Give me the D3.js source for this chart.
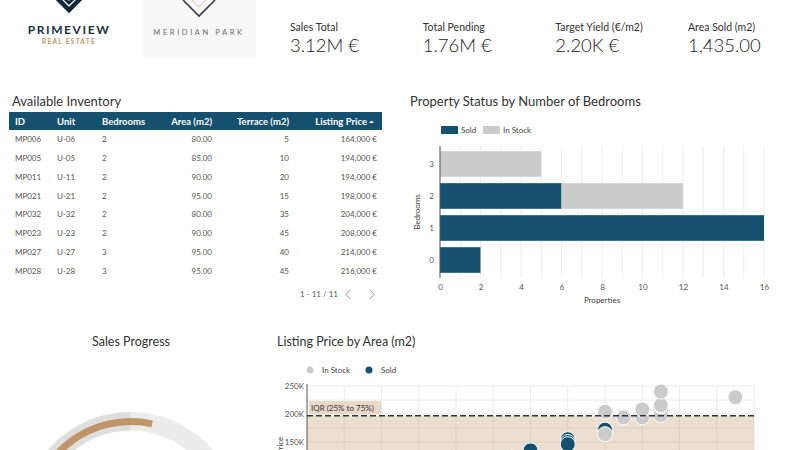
<!DOCTYPE html>
<html>
<head>
<meta charset="utf-8">
<script src="https://cdn.jsdelivr.net/npm/d3@7"></script>
<style>
  body { margin: 0; background: #fff; }
  svg text { font-family: Lato, "Open Sans", sans-serif; }
</style>
</head>
<body>
<svg id="chart" width="800" height="450"></svg>
<script>
// --- data ---
const kpiLabels = ["Sales Total", "Total Pending", "Target Yield (€/m2)", "Area Sold (m2)"];
const kpiValues = ["3.12M €", "1.76M €", "2.20K €", "1,435.00"];

const tableColumns = ["ID", "Unit", "Bedrooms", "Area (m2)", "Terrace (m2)", "Listing Price"];
const unitIds = ["MP006", "MP005", "MP011", "MP021", "MP032", "MP023", "MP027", "MP028"];
const unitNames = ["U-06", "U-05", "U-11", "U-21", "U-32", "U-23", "U-27", "U-28"];
const unitBedrooms = [2, 2, 2, 2, 2, 2, 3, 3];
const unitAreas = [80, 85, 90, 95, 80, 90, 95, 95];
const unitTerraces = [5, 10, 20, 15, 35, 45, 40, 45];
const unitPrices = [164000, 194000, 194000, 198000, 204000, 208000, 214000, 216000];
const pageLabel = "1 - 11 / 11";

const bedroomCats = ["3", "2", "1", "0"];
const soldByBedrooms = [0, 6, 16, 2];
const inStockByBedrooms = [5, 6, 0, 0];

const gaugeTarget = 0.5;
const gaugeValue = 0.57;

const inStockArea = [80, 80, 85, 90, 90, 95, 95, 95, 95, 115, 55];
const inStockPrice = [164000, 204000, 194000, 194000, 208000, 198000, 214000, 216000, 240000, 230000, 122000];
const soldArea = [95, 80, 70, 70, 70, 60];
const soldPrice = [205000, 172000, 155000, 150000, 146000, 135000];
const iqrRange = [120000, 197000];

// --- styles ---
const NAVY = "#16506f";
const GREY_BAR = "#cbcbcb";
const TAN = "#c0956a";
const TEXT = "#333";

const svg = d3.select("#chart");
const euro = (v) => d3.format(",")(v) + " €";

const drawLogos = (g) => {
  // PrimeView mark
  g.append("path")
    .attr("d", "M57,-2 L69,10 L81,-2")
    .attr("fill", "none").attr("stroke", "#13293a").attr("stroke-width", 4.5);
  g.append("path")
    .attr("d", "M64,-2 L69,3 L74,-2")
    .attr("fill", "none").attr("stroke", "#13293a").attr("stroke-width", 3);
  g.append("text").attr("x", 69).attr("y", 34).attr("text-anchor", "middle")
    .attr("font-size", 12).attr("font-weight", 700).attr("letter-spacing", 1.6)
    .attr("fill", "#1b3244").text("PRIMEVIEW");
  g.append("text").attr("x", 69).attr("y", 44).attr("text-anchor", "middle")
    .attr("font-size", 6.5).attr("font-weight", 700).attr("letter-spacing", 1.3)
    .attr("fill", TAN).text("REAL ESTATE");

  // Meridian Park
  g.append("rect").attr("x", 143).attr("y", 0).attr("width", 113).attr("height", 58)
    .attr("fill", "#f8f8f8");
  g.append("path").attr("d", "M183,0 L199,16 L215,0")
    .attr("fill", "none").attr("stroke", "#3a3a3a").attr("stroke-width", 1.6);
  g.append("path").attr("d", "M192,0 L199,7 L206,0")
    .attr("fill", "none").attr("stroke", "#dcc7aa").attr("stroke-width", 1);
  g.append("text").attr("x", 199).attr("y", 35).attr("text-anchor", "middle")
    .attr("font-size", 7.5).attr("letter-spacing", 2.6)
    .attr("fill", "#6a6a6a").text("MERIDIAN PARK");
};

const drawKpis = (g) => {
  const x = d3.scalePoint(kpiLabels, [290, 688]);
  const cards = g.selectAll("g.kpi").data(kpiLabels).join("g")
    .attr("transform", (d) => `translate(${x(d)},0)`);
  cards.append("text").attr("y", 31).attr("font-size", 10.5).attr("fill", TEXT).text((d) => d);
  cards.append("text").attr("y", 52).attr("font-size", 18.5).attr("font-weight", 300).attr("fill", "#222")
    .text((d, i) => kpiValues[i]);
};

const drawTable = (g) => {
  g.append("text").attr("x", 12).attr("y", 106).attr("font-size", 13).attr("fill", TEXT)
    .text("Available Inventory");
  g.append("rect").attr("x", 9).attr("y", 112).attr("width", 373).attr("height", 18).attr("fill", NAVY);

  const colX = [15, 57, 102, 212, 289, 377];
  const colAnchor = ["start", "start", "start", "end", "end", "end"];
  g.selectAll("text.th").data(tableColumns).join("text")
    .attr("x", (d, i) => (i === 5 ? colX[i] - 10 : colX[i]))
    .attr("y", 124.5)
    .attr("text-anchor", (d, i) => colAnchor[i])
    .attr("font-size", 9.5).attr("font-weight", 700).attr("fill", "#fff")
    .text((d) => d);
  g.append("path").attr("d", "M369,123 L371.5,120.5 L374,123 Z").attr("fill", "#fff");

  const rowY = d3.scaleBand(d3.range(unitIds.length), [130, 280]);
  const rows = g.selectAll("g.row").data(unitIds).join("g")
    .attr("transform", (d, i) => `translate(0,${rowY(i) + rowY.bandwidth() / 2 + 3})`);
  const cells = (i) => [unitIds[i], unitNames[i], unitBedrooms[i],
    unitAreas[i].toFixed(2), unitTerraces[i], euro(unitPrices[i])];
  rows.each(function (d, i) {
    d3.select(this).selectAll("text").data(cells(i)).join("text")
      .attr("x", (c, j) => colX[j])
      .attr("text-anchor", (c, j) => colAnchor[j])
      .attr("font-size", 8).attr("fill", "#555")
      .text((c) => c);
  });

  g.append("text").attr("x", 300).attr("y", 297).attr("font-size", 8).attr("fill", "#555").text(pageLabel);
  g.append("path").attr("d", "M350,290 L346,294.5 L350,299")
    .attr("fill", "none").attr("stroke", "#999").attr("stroke-width", 1);
  g.append("path").attr("d", "M370,290 L374,294.5 L370,299")
    .attr("fill", "none").attr("stroke", "#999").attr("stroke-width", 1);
};

const drawBars = (g) => {
  g.append("text").attr("x", 410).attr("y", 106).attr("font-size", 13).attr("fill", TEXT)
    .text("Property Status by Number of Bedrooms");

  const x = d3.scaleLinear([0, 16], [440, 764]);
  const y = d3.scaleBand(bedroomCats, [148, 276]).paddingInner(0.2).paddingOuter(0.1);

  // legend
  const legend = [["Sold", NAVY, 441], ["In Stock", GREY_BAR, 483]];
  legend.forEach(([label, color, lx]) => {
    g.append("rect").attr("x", lx).attr("y", 126).attr("width", 17).attr("height", 8).attr("fill", color);
    g.append("text").attr("x", lx + 20).attr("y", 133).attr("font-size", 8).attr("fill", "#444").text(label);
  });

  g.append("g").selectAll("line").data(d3.range(0, 17)).join("line")
    .attr("x1", x).attr("x2", x).attr("y1", 146).attr("y2", 278)
    .attr("stroke", "#ececec").attr("stroke-width", 1);

  g.append("g").selectAll("rect").data(bedroomCats).join("rect")
    .attr("x", x(0)).attr("y", (d) => y(d))
    .attr("width", (d, i) => x(soldByBedrooms[i]) - x(0))
    .attr("height", y.bandwidth()).attr("fill", NAVY);
  g.append("g").selectAll("rect").data(bedroomCats).join("rect")
    .attr("x", (d, i) => x(soldByBedrooms[i])).attr("y", (d) => y(d))
    .attr("width", (d, i) => x(inStockByBedrooms[i]) - x(0))
    .attr("height", y.bandwidth()).attr("fill", GREY_BAR);

  g.append("line").attr("x1", 440).attr("x2", 440).attr("y1", 146).attr("y2", 278)
    .attr("stroke", "#555").attr("stroke-width", 1);

  const xAxis = g.append("g").attr("transform", "translate(0,278)")
    .call(d3.axisBottom(x).tickValues(d3.range(0, 17, 2)).tickSize(0).tickPadding(6));
  const yAxis = g.append("g").attr("transform", "translate(440,0)")
    .call(d3.axisLeft(y).tickSize(0).tickPadding(6));
  [xAxis, yAxis].forEach((a) => {
    a.select(".domain").remove();
    a.selectAll("text").attr("font-size", 8).attr("fill", "#555");
  });

  g.append("text").attr("x", 602).attr("y", 303).attr("text-anchor", "middle")
    .attr("font-size", 8).attr("fill", "#444").text("Properties");
  g.append("text").attr("transform", "translate(420,212) rotate(-90)").attr("text-anchor", "middle")
    .attr("font-size", 8).attr("fill", "#444").text("Bedrooms");
};

const drawGauge = (g) => {
  g.append("text").attr("x", 131).attr("y", 346).attr("text-anchor", "middle")
    .attr("font-size", 12.5).attr("fill", TEXT).text("Sales Progress");

  const angle = d3.scaleLinear([0, 1], [-Math.PI / 2, Math.PI / 2]);
  const gauge = g.append("g").attr("transform", "translate(130.5,520.5)");
  const ring = d3.arc().innerRadius(90).outerRadius(108.5);
  gauge.append("path").attr("d", ring({ startAngle: angle(0), endAngle: angle(1) })).attr("fill", "#ececec");
  gauge.append("path").attr("d", ring({ startAngle: angle(0), endAngle: angle(gaugeTarget) })).attr("fill", "#dedede");
  const bar = d3.arc().innerRadius(95.5).outerRadius(102.5);
  gauge.append("path").attr("d", bar({ startAngle: angle(0), endAngle: angle(gaugeValue) })).attr("fill", TAN);
};

const drawScatter = (g) => {
  g.append("text").attr("x", 277).attr("y", 346).attr("font-size", 12.5).attr("fill", TEXT)
    .text("Listing Price by Area (m2)");

  const x = d3.scaleLinear([0, 120], [307, 754]);
  const y = d3.scaleLinear([0, 250000], [526, 386]);

  // legend
  [["In Stock", GREY_BAR, 310], ["Sold", NAVY, 369]].forEach(([label, color, lx]) => {
    g.append("circle").attr("cx", lx).attr("cy", 370).attr("r", 3.5).attr("fill", color);
    g.append("text").attr("x", lx + 12).attr("y", 373).attr("font-size", 8).attr("fill", "#444").text(label);
  });

  g.append("g").selectAll("line").data(d3.range(0, 250001, 25000)).join("line")
    .attr("x1", 307).attr("x2", 754).attr("y1", y).attr("y2", y)
    .attr("stroke", "#eaeaea");
  g.append("g").selectAll("line").data(d3.range(10, 121, 10)).join("line")
    .attr("x1", x).attr("x2", x).attr("y1", 386).attr("y2", 526)
    .attr("stroke", "#eaeaea");

  g.append("rect").attr("x", 307).attr("y", y(iqrRange[1]))
    .attr("width", 754 - 307).attr("height", y(iqrRange[0]) - y(iqrRange[1]))
    .attr("fill", TAN).attr("fill-opacity", 0.3);

  g.append("line").attr("x1", 307).attr("x2", 307).attr("y1", 384).attr("y2", 526)
    .attr("stroke", "#555");

  const yAxis = g.append("g").attr("transform", "translate(307,0)")
    .call(d3.axisLeft(y).tickValues([150000, 200000, 250000])
      .tickFormat((d) => d / 1000 + "K").tickSize(0).tickPadding(3));
  yAxis.select(".domain").remove();
  yAxis.selectAll("text").attr("font-size", 8).attr("fill", "#555");

  g.append("text").attr("transform", "translate(283,458) rotate(-90)").attr("text-anchor", "middle")
    .attr("font-size", 8).attr("fill", "#444").text("Listing Price");

  g.append("g").selectAll("circle").data(soldArea).join("circle")
    .attr("cx", (d) => x(d)).attr("cy", (d, i) => y(soldPrice[i])).attr("r", 7.5)
    .attr("fill", NAVY).attr("stroke", "#fff").attr("stroke-width", 1);
  g.append("g").selectAll("circle").data(inStockArea).join("circle")
    .attr("cx", (d) => x(d)).attr("cy", (d, i) => y(inStockPrice[i])).attr("r", 7.5)
    .attr("fill", GREY_BAR).attr("stroke", "#fff").attr("stroke-width", 1);

  g.append("line").attr("x1", 307).attr("x2", 754)
    .attr("y1", y(iqrRange[1])).attr("y2", y(iqrRange[1]))
    .attr("stroke", "#333").attr("stroke-width", 1.6).attr("stroke-dasharray", "6,3");

  g.append("rect").attr("x", 309).attr("y", 401).attr("width", 72).attr("height", 13)
    .attr("fill", "#ead8c8");
  g.append("text").attr("x", 311).attr("y", 411).attr("font-size", 8).attr("fill", "#333")
    .text("IQR (25% to 75%)");
};

drawLogos(svg.append("g"));
drawKpis(svg.append("g"));
drawTable(svg.append("g"));
drawBars(svg.append("g"));
drawGauge(svg.append("g"));
drawScatter(svg.append("g"));
</script>
</body>
</html>
